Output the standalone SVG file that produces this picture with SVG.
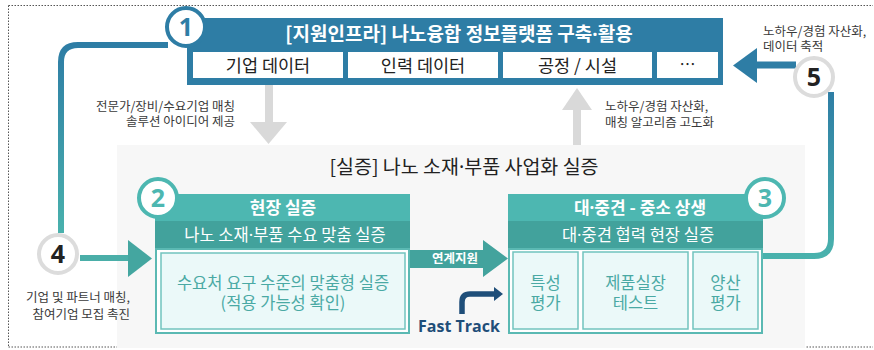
<svg xmlns="http://www.w3.org/2000/svg" width="874" height="350" viewBox="0 0 874 350">
<defs>
<linearGradient id="gl" gradientUnits="userSpaceOnUse" x1="0" y1="45" x2="0" y2="240">
<stop offset="0" stop-color="#2e7da5"/><stop offset="1" stop-color="#4ab3ad"/>
</linearGradient>
<linearGradient id="gr" gradientUnits="userSpaceOnUse" x1="0" y1="90" x2="0" y2="260">
<stop offset="0" stop-color="#2e7da5"/><stop offset="1" stop-color="#4ab3ad"/>
</linearGradient>
<style>
.k{font-family:"Noto Sans CJK KR","Noto Sans",sans-serif}
.d{font-family:"Noto Sans",sans-serif}
.w{fill:#fff}
.b{font-weight:bold}
.c{text-anchor:middle}
.sm{font-size:12.5px;fill:#3a3a3a}
.sub{fill:#fff;stroke:none}
.dark{fill:#222}
.teal{fill:#4aa9a4}
.num{font-family:"Open Sans","Noto Sans",sans-serif;font-size:25px;font-weight:bold;text-anchor:middle}
.ring{fill:#fff;stroke-width:4}
</style>
</defs>
<rect x="0" y="0" width="874" height="350" fill="#fff"/>
<path d="M8.5,5.5 H873 M8.5,5.5 V347 M8.5,347 H873" fill="none" stroke="#555" stroke-width="1" stroke-dasharray="1.5,1.5"/>
<rect x="117" y="145" width="688" height="203" fill="#f7f7f7"/>

<g id="connectors">
<path d="M168,45 H78 Q61,45 61,62 V233" fill="none" stroke="url(#gl)" stroke-width="6"/>
<path d="M80,258 H130" fill="none" stroke="#4aaea8" stroke-width="6"/>
<polygon points="128,240 152,258.5 128,277" fill="#44a6a0"/>
<path d="M763,256 H814 Q831,256 831,239 V92" fill="none" stroke="url(#gr)" stroke-width="6"/>
<path d="M796,65 H755" fill="none" stroke="#2e7da5" stroke-width="7"/>
<polygon points="757,48 733,65.5 757,83" fill="#2e7da5"/>
<rect x="265" y="85" width="8" height="38" fill="#d9d9d9"/>
<polygon points="250,122 287,122 268.5,144" fill="#d9d9d9"/>
<rect x="573" y="109" width="8" height="36" fill="#d9d9d9"/>
<polygon points="562,110 592,110 577,88" fill="#d9d9d9"/>
<polygon points="410,250 483,250 483,240 508,258.5 483,277 483,268 410,268" fill="#43a39d"/>
<text class="k w b c" x="455" y="263" font-size="12.5">연계지원</text>
<path d="M462,314 V302 Q462,294 470,294 H495" fill="none" stroke="#1f4e79" stroke-width="5.5"/>
<polygon points="494,287 503,294 494,301" fill="#1f4e79"/>
<text x="459" y="332" font-family="'Open Sans','Noto Sans',sans-serif" font-size="16" font-weight="bold" fill="#1f4e79" text-anchor="middle">Fast Track</text>
<text class="k sm" text-anchor="end"><tspan x="235" y="110.5">전문가/장비/수요기업 매칭</tspan><tspan x="235" y="126">솔루션 아이디어 제공</tspan></text>
<text class="k sm"><tspan x="605" y="111">노하우/경험 자산화,</tspan><tspan x="605" y="127">매칭 알고리즘 고도화</tspan></text>
<text class="k sm"><tspan x="763" y="35.5">노하우/경험 자산화,</tspan><tspan x="763" y="51">데이터 축적</tspan></text>
<text class="k sm" text-anchor="end"><tspan x="130" y="302">기업 및 파트너 매칭,</tspan><tspan x="130" y="319">참여기업 모집 촉진</tspan></text>
</g>

<g id="node1">
<rect x="187" y="18" width="536" height="67" fill="#2e7da5"/>
<text class="k w b c" x="459" y="41" font-size="19">[지원인프라] 나노융합 정보플랫폼 구축<tspan class="d">·</tspan>활용</text>
<rect class="sub" x="193" y="52" width="150" height="26"/>
<rect class="sub" x="348" y="52" width="150" height="26"/>
<rect class="sub" x="503" y="52" width="149" height="26"/>
<rect class="sub" x="657" y="52" width="61" height="26"/>
<g class="k c dark" font-size="17.5">
<text x="268" y="71.5">기업 데이터</text>
<text x="423" y="71.5">인력 데이터</text>
<text x="577.5" y="71.5">공정 / 시설</text>
<text x="687.5" y="70" font-size="16">…</text>
</g>
<circle class="ring" cx="186" cy="27" r="19" stroke="#2e7da5"/>
<text class="num" x="186" y="36" fill="#2e7da5">1</text>
</g>

<g id="panel">
<text class="k c dark" x="464" y="174" font-size="19.5">[실증] 나노 소재<tspan class="d">·</tspan>부품 사업화 실증</text>
</g>

<g id="node2">
<rect x="155" y="194" width="255" height="28" fill="#4db7b1"/>
<rect x="155" y="221" width="255" height="28" fill="#42a29c"/>
<rect x="156" y="249" width="253" height="84" fill="#fff" stroke="#5bb9b3" stroke-width="2"/>
<rect x="161" y="253" width="244" height="76" fill="#ebf9f9" stroke="#72c3be" stroke-width="1.5"/>
<text class="k w b c" x="283" y="214" font-size="17">현장 실증</text>
<text class="k w c" x="285" y="241" font-size="16.5">나노 소재<tspan class="d">·</tspan>부품 수요 맞춤 실증</text>
<text class="k teal c" font-size="16.5"><tspan x="283" y="289">수요처 요구 수준의 맞춤형 실증</tspan><tspan x="283" y="309">(적용 가능성 확인)</tspan></text>
<circle class="ring" cx="158" cy="198" r="19" stroke="#4db7b1"/>
<text class="num" x="158" y="207" fill="#4db7b1">2</text>
</g>

<g id="node3">
<rect x="508" y="194" width="255" height="28" fill="#4db7b1"/>
<rect x="508" y="221" width="255" height="28" fill="#42a29c"/>
<rect x="509" y="249" width="253" height="84" fill="#fff" stroke="#5bb9b3" stroke-width="2"/>
<rect x="513" y="252" width="65" height="77" fill="#ebf9f9" stroke="#72c3be" stroke-width="1.5"/>
<rect x="583" y="252" width="105" height="77" fill="#ebf9f9" stroke="#72c3be" stroke-width="1.5"/>
<rect x="693" y="252" width="65" height="77" fill="#ebf9f9" stroke="#72c3be" stroke-width="1.5"/>
<text class="k w b c" x="640" y="214" font-size="17">대<tspan class="d">·</tspan>중견 - 중소 상생</text>
<text class="k w c" x="638" y="241" font-size="16.5">대<tspan class="d">·</tspan>중견 협력 현장 실증</text>
<g class="k teal c" font-size="16.5">
<text><tspan x="545.5" y="289">특성</tspan><tspan x="545.5" y="309">평가</tspan></text>
<text><tspan x="635.5" y="289">제품실장</tspan><tspan x="635.5" y="309">테스트</tspan></text>
<text><tspan x="725.5" y="289">양산</tspan><tspan x="725.5" y="309">평가</tspan></text>
</g>
<circle class="ring" cx="765" cy="198" r="19" stroke="#4db7b1"/>
<text class="num" x="765" y="207" fill="#4db7b1">3</text>
</g>

<g id="node4">
<circle class="ring" cx="58" cy="254" r="19" stroke="#dcdcdc"/>
<text class="num dark" x="58" y="263">4</text>
</g>

<g id="node5">
<circle class="ring" cx="814" cy="77" r="19" stroke="#dcdcdc"/>
<text class="num dark" x="814" y="86">5</text>
</g>
</svg>
